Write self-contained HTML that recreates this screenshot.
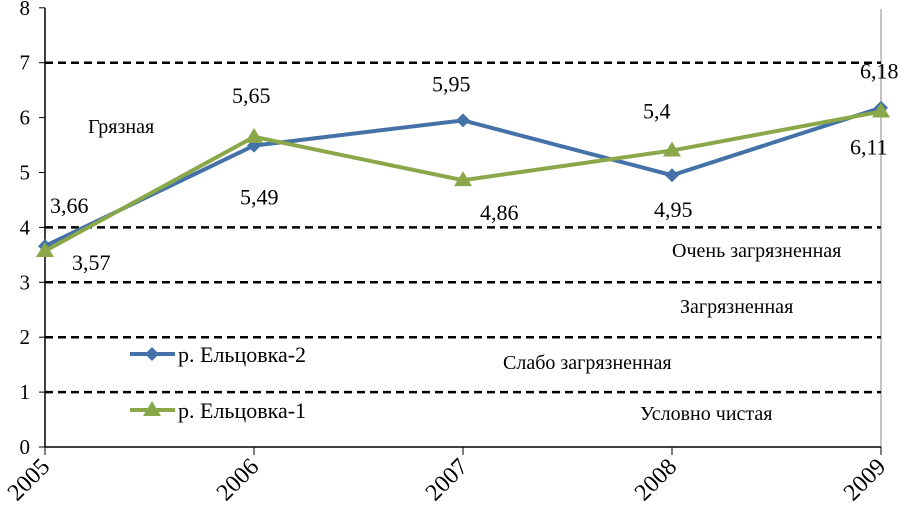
<!DOCTYPE html>
<html><head><meta charset="utf-8"><style>
body{margin:0;background:#fff}
svg text{font-family:"Liberation Serif",serif;fill:#000}
</style></head><body>
<svg width="906" height="515" viewBox="0 0 906 515" xmlns="http://www.w3.org/2000/svg" id="chart">
<line x1="881" y1="9" x2="881" y2="447" stroke="#888" stroke-width="1"/>
<g id="grid"></g>
<g id="axes"></g>
<g id="zones" font-size="20">
<text x="88" y="133">Грязная</text>
<text x="672" y="257">Очень загрязненная</text>
<text x="680" y="313">Загрязненная</text>
<text x="503" y="369">Слабо загрязненная</text>
<text x="640" y="420">Условно чистая</text>
</g>
<g id="series"></g>
<g id="labels" font-size="22"></g>
<g id="legend">
<line x1="130" y1="354" x2="175" y2="354" stroke="#4472a8" stroke-width="4"/>
<path d="M152 347 L159 354 L152 361 L145 354Z" fill="#4472a8"/>
<text x="178" y="362" font-size="22">р. Ельцовка-2</text>
<line x1="130" y1="410" x2="175" y2="410" stroke="#8aa84a" stroke-width="4"/>
<path d="M152 401 L161 416 L143 416Z" fill="#8aa84a"/>
<text x="178" y="418" font-size="22">р. Ельцовка-1</text>
</g>
</svg>
<script>
const years=["2005","2006","2007","2008","2009"];
const series2=[3.66,5.49,5.95,4.95,6.18];
const series1=[3.57,5.65,4.86,5.4,6.11];
const yTicks=[0,1,2,3,4,5,6,7,8];
const dashed=[1,2,3,4,7];
const NS="http://www.w3.org/2000/svg";
const X=i=>45+i*209, Y=v=>447-v*54.9;
function mk(t,a,p){const e=document.createElementNS(NS,t);for(const k in a)e.setAttribute(k,a[k]);p.appendChild(e);return e;}
const grid=document.getElementById('grid'),axes=document.getElementById('axes'),ser=document.getElementById('series'),lab=document.getElementById('labels');
dashed.forEach(v=>{const l=mk('line',{x1:45,x2:881,y1:Y(v),y2:Y(v),stroke:'#000','stroke-width':2.5,'stroke-dasharray':'8,5'},grid);

});
mk('line',{x1:45,x2:45,y1:Y(8),y2:447,stroke:'#000','stroke-width':1.5},axes);
mk('line',{x1:45,x2:881,y1:447,y2:447,stroke:'#000','stroke-width':1.5},axes);
yTicks.forEach(v=>{mk('line',{x1:39,x2:45,y1:Y(v),y2:Y(v),stroke:'#000'},axes);
const t=mk('text',{x:30,y:Y(v)+7,'font-size':21,'text-anchor':'end'},axes);t.textContent=v;

});
years.forEach((y,i)=>{mk('line',{x1:X(i),x2:X(i),y1:447,y2:455,stroke:'#000'},axes);
const t=mk('text',{x:X(i)+6,y:468,'font-size':24,'text-anchor':'end',transform:`rotate(-45 ${X(i)+6} 468)`},axes);t.textContent=y;

});
function draw(data,col,name,marker){
const p=mk('polyline',{points:data.map((v,i)=>X(i)+','+Y(v)).join(' '),fill:'none',stroke:col,'stroke-width':4},ser);


data.forEach((v,i)=>{const x=X(i),y=Y(v);
const d=marker==='d'?`M${x} ${y-7}L${x+7} ${y}L${x} ${y+7}L${x-7} ${y}Z`:`M${x} ${y-9}L${x+9} ${y+6}L${x-9} ${y+6}Z`;
const m=mk('path',{d:d,fill:col},ser);

});}
draw(series2,'#4472a8','yeltsovka-2','d');
draw(series1,'#8aa84a','yeltsovka-1','t');
const off2=[[50,-41],[240,51],[432,-37],[654,34],[860,-37]];
const off1=[[72,11],[232,-42],[480,32],[643,-40],[850,35]];
function labels(data,off,name){data.forEach((v,i)=>{const t=mk('text',{x:off[i][0],y:Y(v)+off[i][1]+8},lab);
t.textContent=String(v).replace('.',',');

});}
labels(series2,off2,'yeltsovka-2');labels(series1,off1,'yeltsovka-1');
</script>
</body></html>
